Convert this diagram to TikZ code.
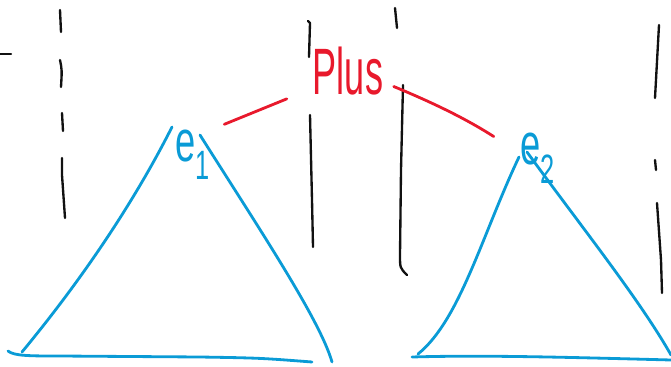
\documentclass[tikz,border=0pt]{standalone}
\usepackage{fontspec}
\setmainfont{Liberation Sans}
\usetikzlibrary{positioning}
\definecolor{inkRed}{HTML}{E8192C}
\definecolor{inkBlue}{HTML}{0A9BD6}
\definecolor{inkBlack}{HTML}{111111}

\begin{document}
\begin{tikzpicture}[
    x=0.03cm, y=-0.03cm,
    blackstroke/.style={draw=inkBlack, line width=2pt, line cap=round, line join=round},
    redstroke/.style={draw=inkRed, line width=2.4pt, line cap=round},
    bluestroke/.style={draw=inkBlue, line width=2.4pt, line cap=round, line join=round},
    oplabel/.style={text=inkRed, inner sep=2pt, font=\fontsize{56}{56}\selectfont, xscale=0.55},
    leaflabel/.style={text=inkBlue, inner sep=2pt, font=\fontsize{50}{50}\selectfont, xscale=0.62}
  ]
    \useasboundingbox (0,0) rectangle (671,367);

    % vertical strokes
    \draw[blackstroke] (0,54) -- (11,54);
    \draw[blackstroke] (60,10) -- (61,32);
    \draw[blackstroke] (60,60) .. controls (62,70) .. (61,87);
    \draw[blackstroke] (62,113) -- (63,131);
    \draw[blackstroke] (62,158) -- (62,175) -- (65,218);
    \draw[blackstroke] (308,21) -- (310,23) -- (309,57);
    \draw[blackstroke] (310,115) -- (312,200) -- (313,247);
    \draw[blackstroke] (395,8) -- (397,28);
    \draw[blackstroke] (403,85) -- (401,170) -- (400,255) .. controls (400,268) .. (407,275);
    \draw[blackstroke] (659,25) -- (655,98);
    \draw[blackstroke] (655,160) -- (656,170);
    \draw[blackstroke] (657,203) -- (661,260) -- (662,293);

    % labels
    \node[oplabel] (plus) at (348,71) {Plus};
    \node[leaflabel] (e1) at (193,155) {e\textsubscript{1}};
    \node[leaflabel] (e2) at (538,158) {e\textsubscript{2}};

    % edges
    \draw[redstroke, shorten <=0.8cm, shorten >=0.4cm] (plus.195) -- (e1.40);
    \draw[redstroke, shorten <=0.3cm, shorten >=0.9cm] (plus.350) to[bend left=5] (e2.170);

    % subtrees
    \draw[bluestroke] (172,127) .. controls (125,220) and (65,300) .. (22,352);
    \draw[bluestroke] (8,351) .. controls (14,356) and (30,356) .. (60,356) -- (200,357) .. controls (260,358) .. (312,362);
    \draw[bluestroke] (200,135) .. controls (260,230) and (320,320) .. (332,362);
    \draw[bluestroke] (519,157) .. controls (482,235) and (460,320) .. (418,354);
    \draw[bluestroke] (412,357) .. controls (480,355) and (560,357) .. (671,360);
    \draw[bluestroke] (527,152) .. controls (580,225) and (640,300) .. (671,355);
\end{tikzpicture}
\end{document}
